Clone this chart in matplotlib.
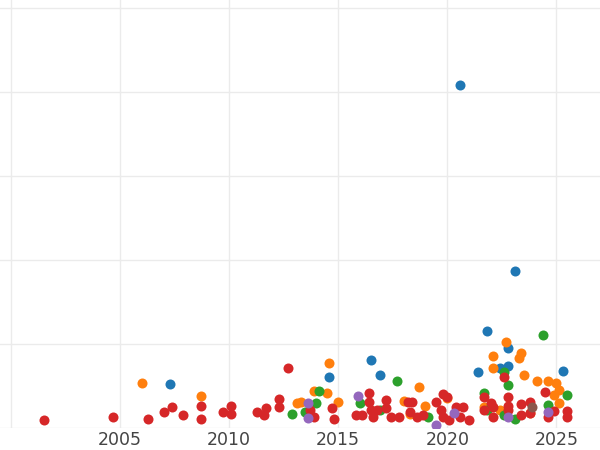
import matplotlib
matplotlib.use('Agg')
import matplotlib.pyplot as plt

# (year, value), one list per colour group
blue_x = [2020.6, 2023.1, 2021.8, 2016.5, 2014.6, 2007.3, 2016.9, 2021.4, 2022.4, 2022.8, 2022.8, 2025.3]
blue_y = [81.6, 37.4, 23.1, 16.2, 12.1, 10.5, 12.6, 13.3, 14.3, 14.8, 19.0, 13.6]

orange_x = [2006.0, 2008.7, 2014.6, 2013.9, 2014.5, 2015.0, 2018.7, 2018.0, 2020.0, 2022.1, 2022.7,
            2022.1, 2023.4, 2023.3, 2023.5, 2024.1, 2024.6, 2025.0, 2025.1, 2024.9, 2025.1, 2021.7,
            2022.4, 2023.8, 2013.3, 2013.1, 2019.0, 2018.3]
orange_y = [10.7, 7.6, 15.5, 8.8, 8.3, 6.2, 9.8, 6.4, 7.1, 17.1, 20.5,
            14.3, 17.9, 16.7, 12.6, 11.2, 11.2, 10.7, 9.0, 7.9, 6.0, 5.0,
            4.3, 3.6, 6.2, 6.0, 5.2, 3.3]

green_x = [2024.4, 2017.7, 2014.1, 2014.0, 2016.0, 2022.6, 2022.8, 2021.7, 2025.5, 2024.6, 2023.1,
           2019.1, 2016.9, 2013.5, 2012.9, 2021.8, 2022.6]
green_y = [22.1, 11.2, 8.8, 6.0, 6.0, 13.3, 10.2, 8.3, 7.9, 5.5, 2.1,
           2.6, 4.3, 3.8, 3.3, 4.3, 3.1]

red_x = [2001.5, 2004.7, 2006.3, 2007.0, 2007.4, 2007.9, 2008.7, 2008.7, 2009.7, 2010.1, 2010.1,
         2011.3, 2011.7, 2011.6, 2012.3, 2012.3, 2012.7, 2013.7, 2013.9, 2014.7, 2014.8, 2015.8,
         2016.1, 2016.4, 2016.4, 2016.5, 2016.6, 2016.8, 2017.2, 2017.2, 2017.4, 2017.8, 2018.2,
         2018.4, 2018.3, 2018.6, 2018.9, 2019.5, 2019.8, 2020.0, 2019.7, 2019.8, 2020.1, 2020.4,
         2020.7, 2020.6, 2021.0, 2021.7, 2022.0, 2022.1, 2022.1, 2021.7, 2022.6, 2022.8, 2022.8,
         2022.8, 2023.4, 2023.8, 2023.8, 2023.4, 2024.5, 2024.6, 2024.9, 2025.5, 2025.5]
red_y = [1.9, 2.6, 2.1, 3.8, 5.0, 3.1, 5.2, 2.1, 3.8, 5.2, 3.3,
         3.8, 4.8, 3.1, 6.9, 5.0, 14.3, 4.3, 2.6, 4.8, 2.1, 3.1,
         3.1, 8.3, 6.2, 4.3, 2.6, 4.3, 6.7, 4.8, 2.6, 2.6, 6.2,
         6.2, 3.8, 2.6, 3.1, 6.2, 8.1, 7.4, 4.3, 2.6, 1.9, 5.0,
         5.0, 2.6, 1.9, 7.4, 6.0, 5.0, 2.6, 4.3, 12.1, 7.4, 5.2,
         4.3, 5.7, 6.2, 3.6, 3.1, 8.6, 2.6, 4.0, 4.0, 2.6]

purple_x = [2015.9, 2013.6, 2013.6, 2019.5, 2020.3, 2022.8, 2024.6]
purple_y = [7.6, 6.0, 2.4, 0.7, 3.6, 2.6, 3.8]

brown_x = [2023.9]
brown_y = [5.0]

groups = [
    (blue_x, blue_y, '#1f77b4'),
    (orange_x, orange_y, '#ff7f0e'),
    (green_x, green_y, '#2ca02c'),
    (red_x, red_y, '#d62728'),
    (purple_x, purple_y, '#9467bd'),
    (brown_x, brown_y, '#8c564b'),
]

fig = plt.figure(figsize=(6, 4.5), dpi=100)
ax = fig.add_axes([0, 22 / 450, 1, 428 / 450])

for xs, ys, c in groups:
    ax.scatter(xs, ys, s=52, color=c, linewidths=0, zorder=3)

ax.set_xlim(1999.5, 2027.0)
ax.set_ylim(0, 101.9)
ax.set_xticks([2000, 2005, 2010, 2015, 2020, 2025])
ax.set_xticklabels(['', '2005', '2010', '2015', '2020', '2025'])
ax.set_yticks([0, 20, 40, 60, 80, 100])
ax.set_yticklabels([])
ax.tick_params(length=0, labelsize=12.5, labelcolor='#444444', pad=2)
ax.grid(True, color='#ebebeb', linewidth=1)
ax.set_axisbelow(True)
for s in ax.spines.values():
    s.set_visible(False)

fig.savefig('out.png', dpi=100)
